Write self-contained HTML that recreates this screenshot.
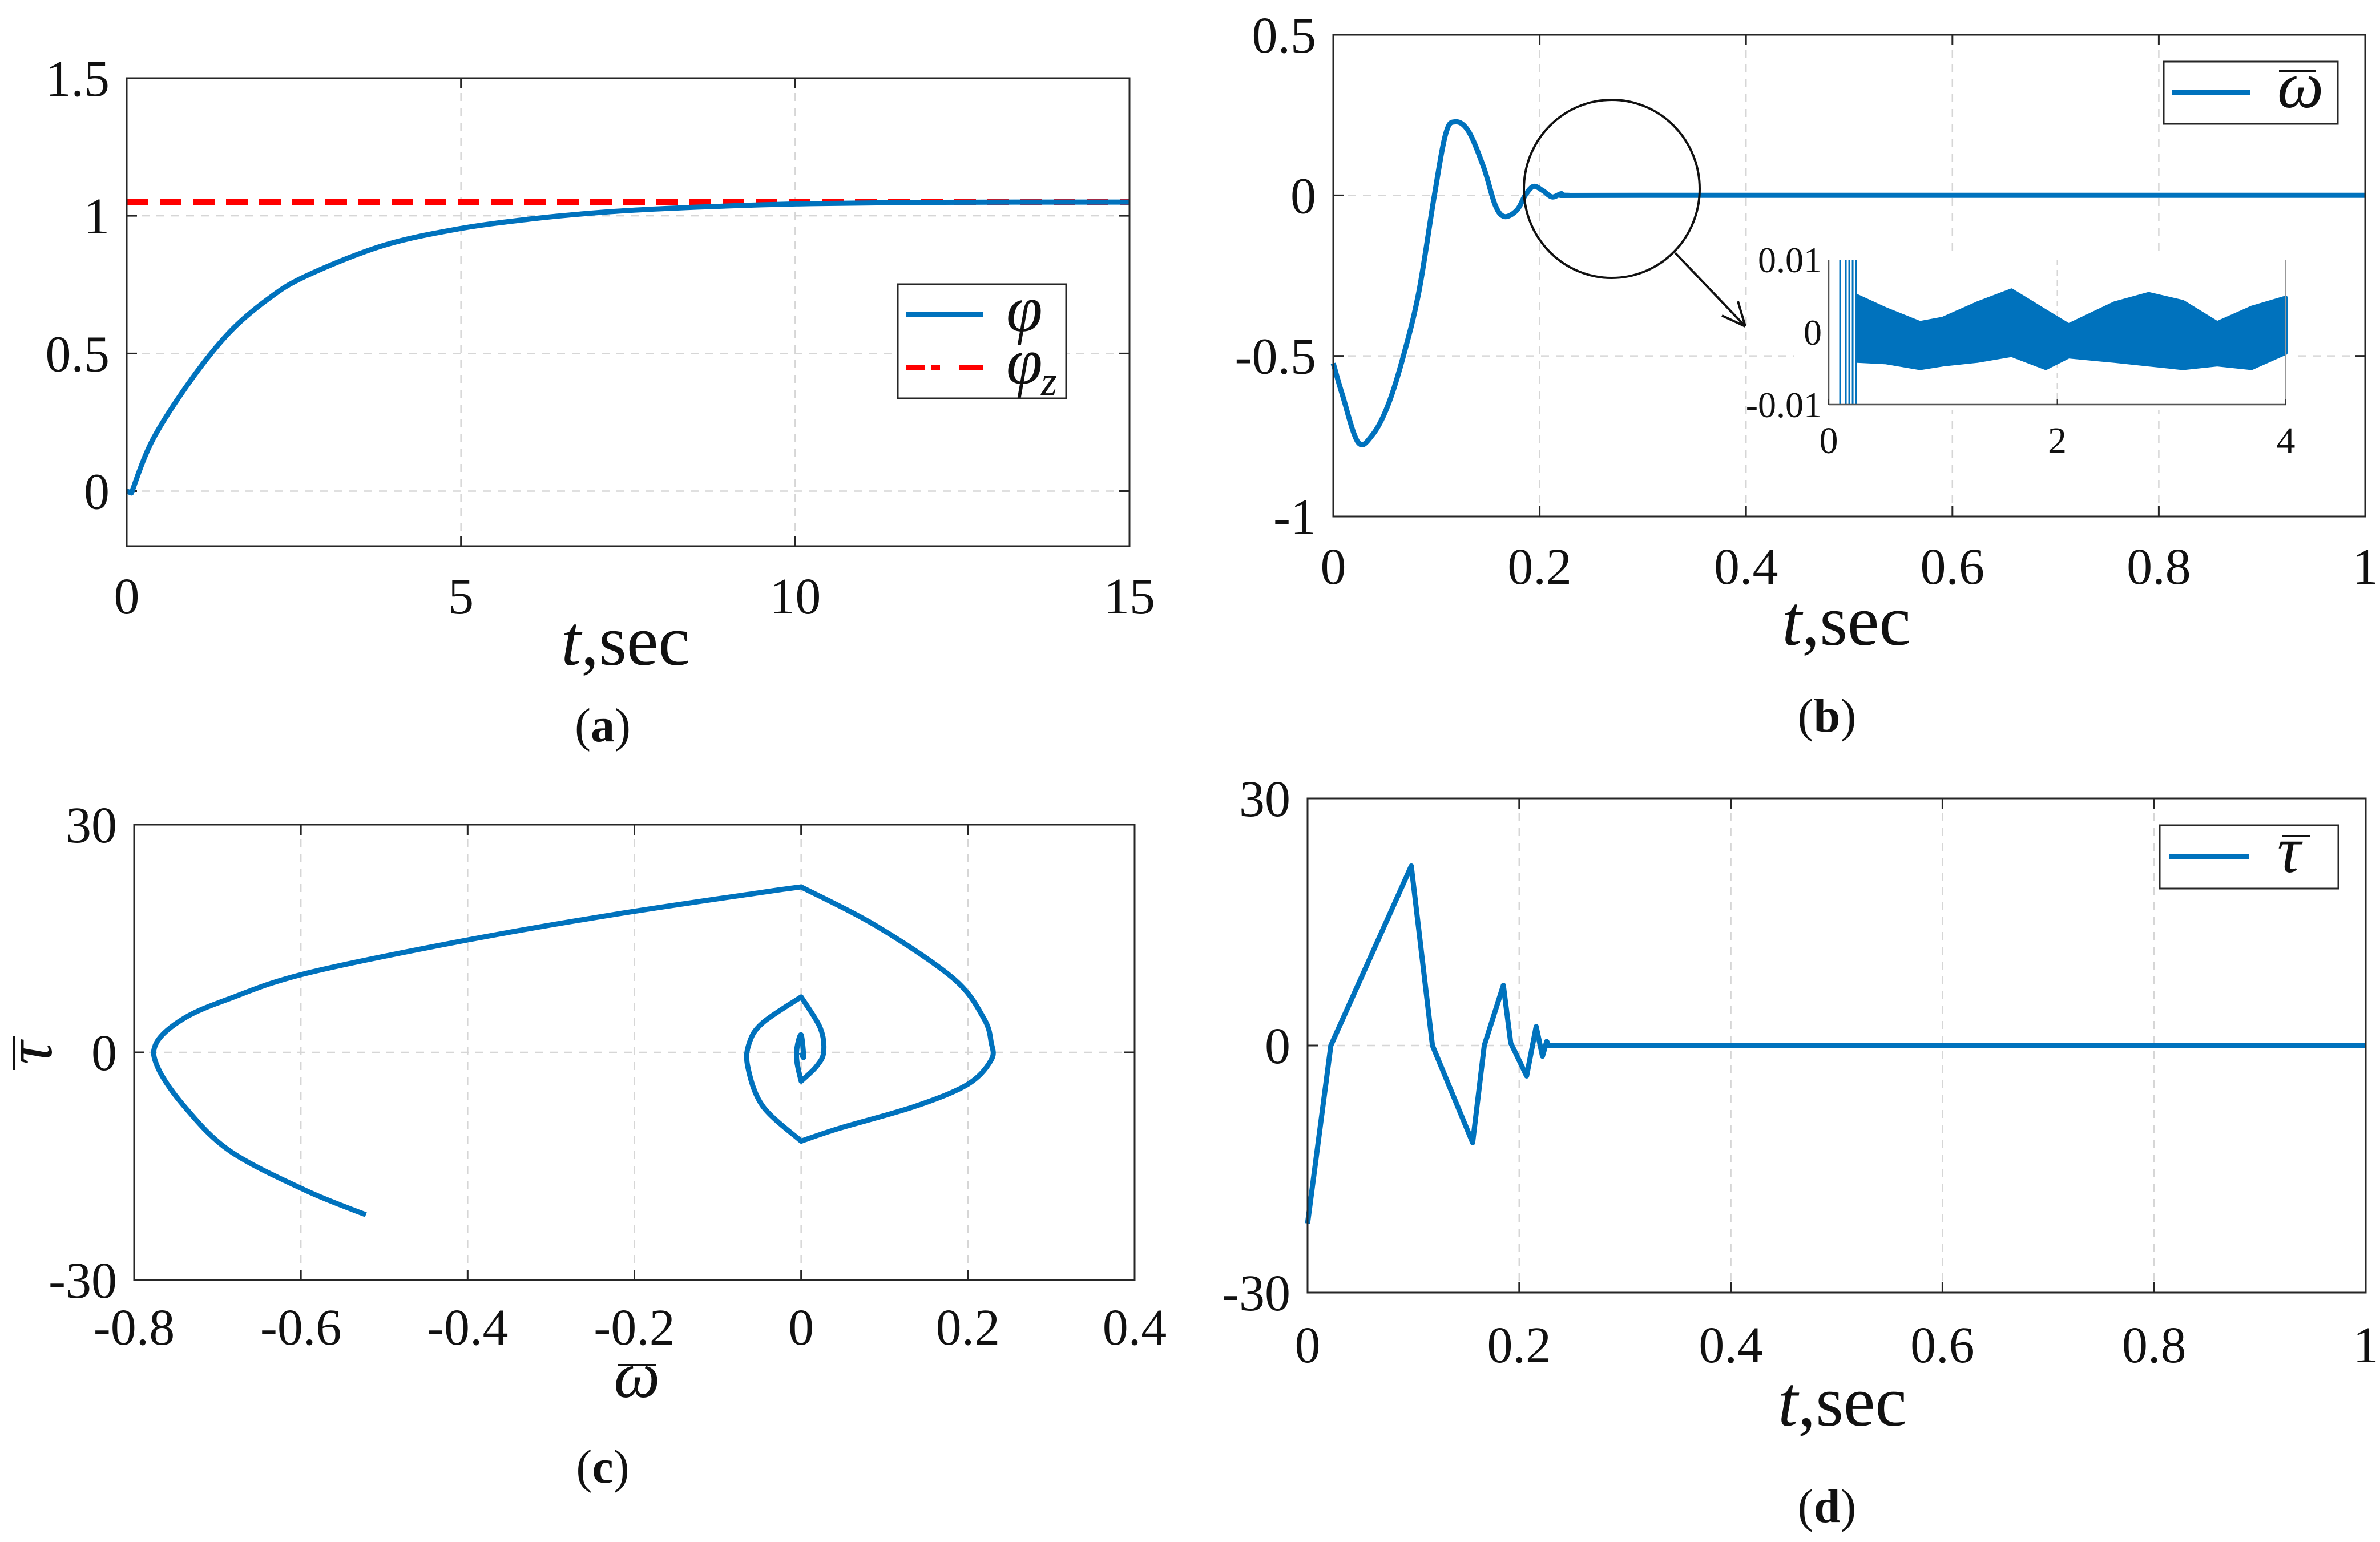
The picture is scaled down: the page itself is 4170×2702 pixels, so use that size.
<!DOCTYPE html>
<html><head><meta charset="utf-8"><style>
html,body{margin:0;padding:0;background:#fff;}
svg{display:block;}
text{font-family:"Liberation Serif","Times New Roman",serif;fill:#111;}
</style></head>
<body>
<svg id="fig" width="4170" height="2702" viewBox="0 0 4170 2702" xmlns="http://www.w3.org/2000/svg" font-family="Liberation Serif, serif"></svg>
<script>
// ---------- data ----------
// (a) phi vs t
const aTime = [0, 0.07, 0.39, 0.96, 1.53, 2.1, 2.67, 3.81, 4.95, 6.1, 7.24, 8.38, 10, 12, 15];
const aPhi = [0, -0.007, 0.187, 0.403, 0.575, 0.695, 0.78, 0.89, 0.952, 0.99, 1.015, 1.03, 1.043, 1.049, 1.05];
const aPhiZ = 1.05;
const aXTicks = [0, 5, 10, 15];
const aYTicks = [0, 0.5, 1, 1.5];
const aYTickLabels = ["0", "0.5", "1", "1.5"];
// (b) omega vs t
const bTime = [0, 0.009, 0.024, 0.038, 0.053, 0.068, 0.083, 0.098, 0.109, 0.118, 0.131, 0.146, 0.157, 0.166, 0.178, 0.186, 0.194, 0.203, 0.212, 0.221, 0.227, 0.3, 1];
const bOmega = [-0.523, -0.623, -0.769, -0.746, -0.654, -0.5, -0.3, 0, 0.192, 0.229, 0.2, 0.085, -0.031, -0.066, -0.046, 0, 0.028, 0.015, -0.005, 0.005, 0, 0, 0];
const bXTicks = [0, 0.2, 0.4, 0.6, 0.8, 1];
const bXTickLabels = ["0", "0.2", "0.4", "0.6", "0.8", "1"];
const bYTicks = [-1, -0.5, 0, 0.5];
const bYTickLabels = ["-1", "-0.5", "0", "0.5"];
// inset (units of 0.01)
const insetTime = [0.25, 0.5, 0.8, 1, 1.3, 1.6, 1.9, 2.1, 2.5, 2.8, 3.1, 3.4, 3.7, 4];
const insetUpper = [0.5, 0.32, 0.13, 0.19, 0.4, 0.58, 0.29, 0.1, 0.4, 0.53, 0.42, 0.13, 0.34, 0.48];
const insetLower = [-0.4, -0.42, -0.5, -0.45, -0.4, -0.32, -0.5, -0.34, -0.4, -0.45, -0.5, -0.45, -0.5, -0.29];
const insetSpikeTime = [0.1, 0.15, 0.18, 0.21, 0.24];
const insetXTicks = [0, 2, 4];
const insetYTickLabels = ["-0.01", "0", "0.01"];
// (c) phase portrait
const cOmega = [-0.522, -0.594, -0.685, -0.74, -0.772, -0.773, -0.74, -0.685, -0.594, -0.41, -0.228, -0.046, 0, 0.091, 0.183, 0.219, 0.228, 0.228, 0.2, 0.137, 0.046, 0, -0.046, -0.064, -0.062, -0.046, 0, 0.023, 0.027, 0.018, 0, -0.005, -0.005, 0, 0.003, 0];
const cTau = [-21.4, -18.2, -13, -7.1, -1.9, 1.3, 4.5, 7.1, 10.4, 14.6, 18.1, 21.1, 21.8, 16.6, 9.7, 4.5, 1.3, -1, -4.2, -7.1, -10, -11.7, -7.1, -1.9, 1.3, 3.9, 7.3, 3.2, 0, -1.9, -3.8, -1.3, 0.6, 2.3, -0.6, 0];
const cCorners = [12, 21, 26, 30];
const cXTicks = [-0.8, -0.6, -0.4, -0.2, 0, 0.2, 0.4];
const cXTickLabels = ["-0.8", "-0.6", "-0.4", "-0.2", "0", "0.2", "0.4"];
const cYTicks = [-30, 0, 30];
// (d) tau vs t
const dTime = [0, 0.022, 0.098, 0.118, 0.156, 0.167, 0.185, 0.192, 0.207, 0.216, 0.222, 0.226, 0.228, 1];
const dTau = [-21.6, 0, 21.8, 0, -11.8, 0, 7.3, 0.3, -3.7, 2.3, -1.3, 0.5, 0, 0];

// ---------- helpers ----------
const NS = "http://www.w3.org/2000/svg";
const svg = document.getElementById("fig");
const BLUE = "#0072bd";
function mk(tag, attrs, parent, txt) {
  const e = document.createElementNS(NS, tag);
  for (const k in attrs) e.setAttribute(k, attrs[k]);
  if (txt !== undefined) e.textContent = txt;
  (parent || svg).appendChild(e);
  return e;
}
function lin(d0, d1, r0, r1) { return v => r0 + (v - d0) / (d1 - d0) * (r1 - r0); }
function grp(name) {
  const g = mk("g", {});
  
  
  return g;
}
function path(xs, ys, sx, sy) {
  return xs.map((v, i) => (i ? "L" : "M") + sx(v).toFixed(1) + " " + sy(ys[i]).toFixed(1)).join(" ");
}
function smooth(xs, ys, sx, sy, corners) {
  const P = xs.map((v, i) => [sx(v), sy(ys[i])]);
  const cs = new Set(corners || []);
  let d = "M" + P[0][0].toFixed(1) + " " + P[0][1].toFixed(1);
  for (let i = 0; i < P.length - 1; i++) {
    const p0 = (i === 0 || cs.has(i)) ? P[i] : P[i - 1];
    const p1 = P[i], p2 = P[i + 1];
    const p3 = (i + 2 >= P.length || cs.has(i + 1)) ? P[i + 1] : P[i + 2];
    const c1 = [p1[0] + (p2[0] - p0[0]) / 6, p1[1] + (p2[1] - p0[1]) / 6];
    const c2 = [p2[0] - (p3[0] - p1[0]) / 6, p2[1] - (p3[1] - p1[1]) / 6];
    d += " C" + c1[0].toFixed(1) + " " + c1[1].toFixed(1) + " " + c2[0].toFixed(1) + " " + c2[1].toFixed(1) + " " + p2[0].toFixed(1) + " " + p2[1].toFixed(1);
  }
  return d;
}
function panel(p) {
  const g = grp(p.name);
  const sx = lin(p.xd[0], p.xd[1], p.L, p.R), sy = lin(p.yd[0], p.yd[1], p.B, p.T);
  p.xt.forEach(v => { const x = sx(v); if (x > p.L + 2 && x < p.R - 2) {
    const l = mk("line", {x1: x, x2: x, y1: p.T, y2: p.B, stroke: "#d6d6d6", "stroke-width": 2.5, "stroke-dasharray": "14 12"}, g);
    
     } });
  p.yt.forEach(v => { const y = sy(v); if (y > p.T + 2 && y < p.B - 2) {
    const l = mk("line", {x1: p.L, x2: p.R, y1: y, y2: y, stroke: "#d6d6d6", "stroke-width": 2.5, "stroke-dasharray": "14 12"}, g);
    
     } });
  p.xt.forEach((v, i) => {
    const x = sx(v);
    mk("line", {x1: x, x2: x, y1: p.B, y2: p.B - 18, stroke: "#262626", "stroke-width": 3}, g);
    mk("line", {x1: x, x2: x, y1: p.T, y2: p.T + 18, stroke: "#262626", "stroke-width": 3}, g);
    const t = mk("text", {x: x, y: p.xLabY, "font-size": 90, "text-anchor": "middle"}, g, p.xtl[i]);
    
    
  });
  p.yt.forEach((v, i) => {
    const y = sy(v);
    mk("line", {x1: p.L, x2: p.L + 18, y1: y, y2: y, stroke: "#262626", "stroke-width": 3}, g);
    mk("line", {x1: p.R, x2: p.R - 18, y1: y, y2: y, stroke: "#262626", "stroke-width": 3}, g);
    const t = mk("text", {x: p.L - 30, y: y + 31, "font-size": 90, "text-anchor": "end"}, g, p.ytl[i]);
    
    
  });
  return {g, sx, sy};
}
function box(g, p) {
  const r = mk("rect", {x: p.L, y: p.T, width: p.R - p.L, height: p.B - p.T, fill: "none", stroke: "#262626", "stroke-width": 3}, g);
  
  
}
function tsec(x, y, g) {
  const t = mk("text", {x: x, y: y, "font-size": 125, "text-anchor": "middle"}, g);
  
  
  mk("tspan", {"font-style": "italic"}, t, "t");
  mk("tspan", {}, t, ",sec");
}
function caption(x, y, s) {
  const t = mk("text", {x: x, y: y, "font-size": 84, "text-anchor": "middle"});
  
  
  mk("tspan", {}, t, "(");
  mk("tspan", {"font-weight": "bold"}, t, s);
  mk("tspan", {}, t, ")");
}

// ---------- panel a ----------
{
  const p = {name: "panel-a", L: 222, R: 1979, T: 137, B: 957, xd: [0, 15], yd: [-0.2, 1.5],
    xt: aXTicks, xtl: aXTicks.map(String), yt: aYTicks, ytl: aYTickLabels, xLabY: 1075};
  const {g, sx, sy} = panel(p);
  const ref = mk("line", {x1: sx(0), x2: sx(15), y1: sy(aPhiZ), y2: sy(aPhiZ), stroke: "#ff0000", "stroke-width": 12, "stroke-dasharray": "38 20"}, g);
  
  
  const c = mk("path", {d: smooth(aTime, aPhi, sx, sy, [1]), fill: "none", stroke: BLUE, "stroke-width": 9, "stroke-linejoin": "round"}, g);
  
  
  box(g, p);
  const lg = grp("legend");
  mk("rect", {x: 1573, y: 498, width: 295, height: 200, fill: "#fff", stroke: "#262626", "stroke-width": 3}, lg);
  mk("line", {x1: 1587, x2: 1722, y1: 551, y2: 551, stroke: BLUE, "stroke-width": 9}, lg);
  mk("line", {x1: 1587, x2: 1722, y1: 644, y2: 644, stroke: "#ff0000", "stroke-width": 9, "stroke-dasharray": "34 10 16 34 36 0"}, lg);
  const e1 = mk("text", {x: 1763, y: 580, "font-size": 115, "font-style": "italic"}, lg, "φ");
  
  
  const e2 = mk("text", {x: 1763, y: 672, "font-size": 115, "font-style": "italic"}, lg, "φ");
  
  
  mk("text", {x: 1824, y: 692, "font-size": 72, "font-style": "italic"}, lg, "z");
  tsec(1096, 1165, g);
  caption(1056, 1299, "a");
}

// ---------- panel b ----------
{
  const p = {name: "panel-b", L: 2336, R: 4144, T: 61, B: 905, xd: [0, 1], yd: [-1, 0.5],
    xt: bXTicks, xtl: bXTickLabels, yt: bYTicks, ytl: bYTickLabels, xLabY: 1023};
  const {g, sx, sy} = panel(p);
  const c = mk("path", {d: smooth(bTime, bOmega, sx, sy, [0]), fill: "none", stroke: BLUE, "stroke-width": 9, "stroke-linejoin": "round"}, g);
  
  
  box(g, p);
  const circ = mk("ellipse", {cx: 2824, cy: 331, rx: 154, ry: 156, fill: "none", stroke: "#111", "stroke-width": 4}, g);
  
  
  const ar = grp("zoom-arrow");
  mk("line", {x1: 2935, y1: 443, x2: 3058, y2: 572, stroke: "#111", "stroke-width": 4}, ar);
  mk("path", {d: "M3058 572 L3045 528 M3058 572 L3017 553", stroke: "#111", "stroke-width": 4, fill: "none"}, ar);
  const ig = grp("inset-chart");
  const iL = 3204, iR = 4005, iT = 455, iB = 709;
  const ix = lin(0, 4, iL, iR), iy = lin(-1, 1, iB, iT);
  mk("rect", {x: iL - 60, y: iT - 10, width: iR - iL + 70, height: iB - iT + 20, fill: "#fff"}, ig);
  mk("line", {x1: ix(2), x2: ix(2), y1: iT, y2: iB, stroke: "#d6d6d6", "stroke-width": 2, "stroke-dasharray": "10 8"}, ig);
  insetSpikeTime.forEach(t => {
    const s = mk("line", {x1: ix(t), x2: ix(t), y1: iT, y2: iB, stroke: BLUE, "stroke-width": 3}, ig);
    
    
  });
  const band = insetTime.map((t, i) => ix(t).toFixed(1) + "," + iy(insetUpper[i]).toFixed(1))
    .concat(insetTime.slice().reverse().map((t, j) => { const i = insetTime.length - 1 - j; return ix(t).toFixed(1) + "," + iy(insetLower[i]).toFixed(1); }));
  const bp = mk("polygon", {points: band.join(" "), fill: BLUE, stroke: BLUE, "stroke-width": 6, "stroke-linejoin": "round"}, ig);
  
  
  mk("line", {x1: iL, x2: iL, y1: iT, y2: iB, stroke: "#555", "stroke-width": 2.5}, ig);
  mk("line", {x1: iL, x2: iR, y1: iB, y2: iB, stroke: "#555", "stroke-width": 2.5}, ig);
  mk("line", {x1: iR, x2: iR, y1: iT, y2: iB, stroke: "#999", "stroke-width": 2}, ig);
  [-1, 0, 1].forEach((v, i) => {
    const t = mk("text", {x: iL - 12, y: iy(v) + 22, "font-size": 64, "text-anchor": "end"}, ig, insetYTickLabels[i]);
    
    
  });
  insetXTicks.forEach(v => {
    mk("line", {x1: ix(v), x2: ix(v), y1: iB, y2: iB - 10, stroke: "#333", "stroke-width": 2}, ig);
    const t = mk("text", {x: ix(v), y: iB + 85, "font-size": 66, "text-anchor": "middle"}, ig, String(v));
    
    
  });
  const lg = grp("legend");
  mk("rect", {x: 3791, y: 108, width: 305, height: 109, fill: "#fff", stroke: "#262626", "stroke-width": 3}, lg);
  mk("line", {x1: 3806, x2: 3943, y1: 162, y2: 162, stroke: BLUE, "stroke-width": 9}, lg);
  const e = mk("text", {x: 3990, y: 188, "font-size": 115, "font-style": "italic"}, lg, "ω");
  
  
  mk("line", {x1: 3993, x2: 4058, y1: 124, y2: 124, stroke: "#111", "stroke-width": 4}, lg);
  tsec(3235, 1130, g);
  caption(3201, 1282, "b");
}

// ---------- panel c ----------
{
  const p = {name: "panel-c", L: 235, R: 1988, T: 1445, B: 2243, xd: [-0.8, 0.4], yd: [-30, 30],
    xt: cXTicks, xtl: cXTickLabels, yt: cYTicks, ytl: cYTicks.map(String), xLabY: 2356};
  const {g, sx, sy} = panel(p);
  const c = mk("path", {d: smooth(cOmega, cTau, sx, sy, cCorners), fill: "none", stroke: BLUE, "stroke-width": 9, "stroke-linejoin": "round"}, g);
  
  
  box(g, p);
  const xl = mk("text", {x: 1116, y: 2448, "font-size": 115, "font-style": "italic", "text-anchor": "middle"}, g, "ω");
  
  
  mk("line", {x1: 1082, x2: 1150, y1: 2392, y2: 2392, stroke: "#111", "stroke-width": 4}, g);
  const yl = mk("text", {x: 0, y: 0, "font-size": 115, "font-style": "italic", "text-anchor": "middle", transform: "translate(90,1845) rotate(-90)"}, g, "τ");
  
  
  mk("line", {x1: 25, x2: 25, y1: 1815, y2: 1875, stroke: "#111", "stroke-width": 4}, g);
  caption(1056, 2598, "c");
}

// ---------- panel d ----------
{
  const p = {name: "panel-d", L: 2291, R: 4145, T: 1399, B: 2265, xd: [0, 1], yd: [-30, 30],
    xt: bXTicks, xtl: bXTickLabels, yt: cYTicks, ytl: cYTicks.map(String), xLabY: 2387};
  const {g, sx, sy} = panel(p);
  const c = mk("path", {d: path(dTime, dTau, sx, sy), fill: "none", stroke: BLUE, "stroke-width": 9, "stroke-linejoin": "round"}, g);
  
  
  box(g, p);
  const lg = grp("legend");
  mk("rect", {x: 3784, y: 1446, width: 313, height: 111, fill: "#fff", stroke: "#262626", "stroke-width": 3}, lg);
  mk("line", {x1: 3800, x2: 3941, y1: 1501, y2: 1501, stroke: BLUE, "stroke-width": 9}, lg);
  const e = mk("text", {x: 3990, y: 1528, "font-size": 115, "font-style": "italic"}, lg, "τ");
  
  
  mk("line", {x1: 3998, x2: 4048, y1: 1465, y2: 1465, stroke: "#111", "stroke-width": 4}, lg);
  tsec(3228, 2498, g);
  caption(3201, 2667, "d");
}
</script>
</body></html>
